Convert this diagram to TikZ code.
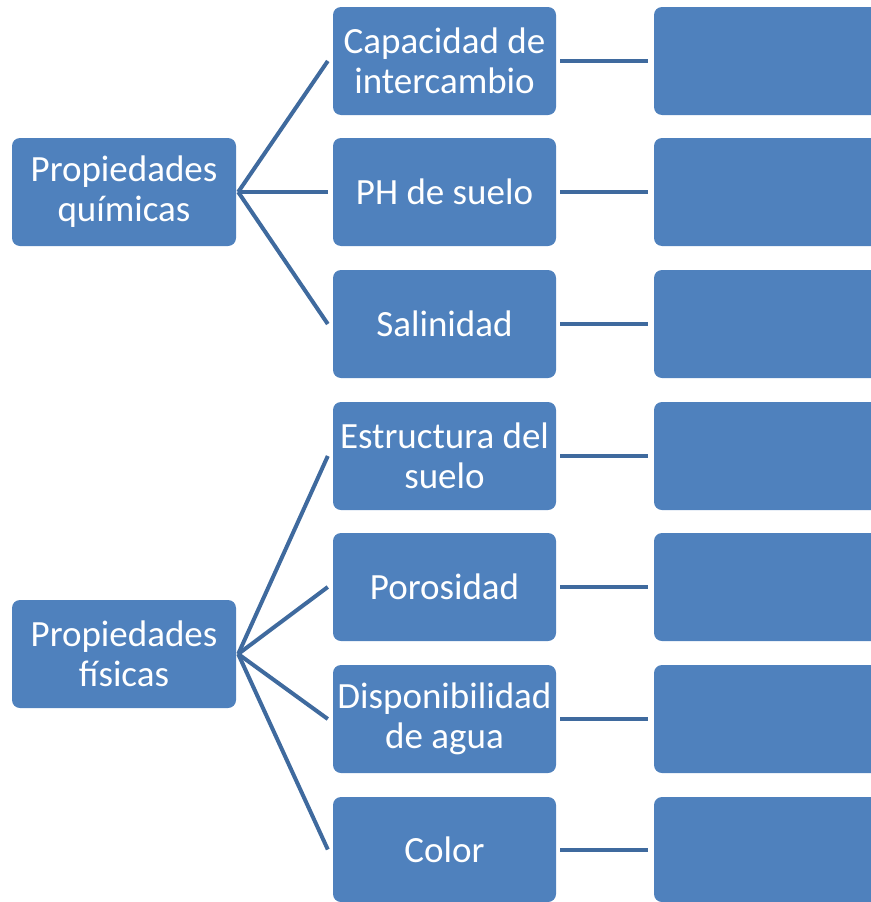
\documentclass[tikz,border=0pt]{standalone}
\usepackage{fontspec}
\setmainfont{Carlito}
\definecolor{boxblue}{HTML}{4F81BD}
\definecolor{lineblue}{HTML}{3F6A9E}
\begin{document}
\begin{tikzpicture}[x=1pt,y=-1pt,
  box/.style={fill=boxblue,rounded corners=8pt,minimum width=223pt,minimum height=108pt,
    inner sep=0pt,align=center,text=white,font=\fontsize{37}{40}\selectfont},
  conn/.style={draw=lineblue,line width=4pt}]
\useasboundingbox (0,0) rectangle (870,902);
% left
\node[box,minimum width=224pt] (pq) at (124,192) {Propiedades\\químicas};
\node[box,minimum width=224pt] (pf) at (124,654) {Propiedades\\físicas};
% middle
\node[box] (m1) at (444.5,61) {Capacidad de\\intercambio};
\node[box] (m2) at (444.5,192) {PH de suelo};
\node[box] (m3) at (444.5,324) {Salinidad};
\node[box] (m4) at (444.5,456) {Estructura del\\suelo};
\node[box] (m5) at (444.5,587) {Porosidad};
\node[box] (m6) at (444.5,719) {Disponibilidad\\de agua};
\node[box,minimum height=105pt] (m7) at (444.5,849.5) {Color};
% right
\node[box,minimum width=230pt] (r1) at (769,61) {};
\node[box,minimum width=230pt] (r2) at (769,192) {};
\node[box,minimum width=230pt] (r3) at (769,324) {};
\node[box,minimum width=230pt] (r4) at (769,456) {};
\node[box,minimum width=230pt] (r5) at (769,587) {};
\node[box,minimum width=230pt] (r6) at (769,719) {};
\node[box,minimum width=230pt,minimum height=105pt] (r7) at (769,849.5) {};
% connectors
\foreach \m in {m1,m2,m3}
  \draw[conn] ([xshift=2pt]pq.east) -- ([xshift=-5pt]\m.west);
\foreach \m in {m4,m5,m6,m7}
  \draw[conn] ([xshift=2pt]pf.east) -- ([xshift=-5pt]\m.west);
\foreach \i in {1,...,7}
  \draw[conn] ([xshift=4pt]m\i.east) -- ([xshift=-6pt]r\i.west);
\end{tikzpicture}
\end{document}
